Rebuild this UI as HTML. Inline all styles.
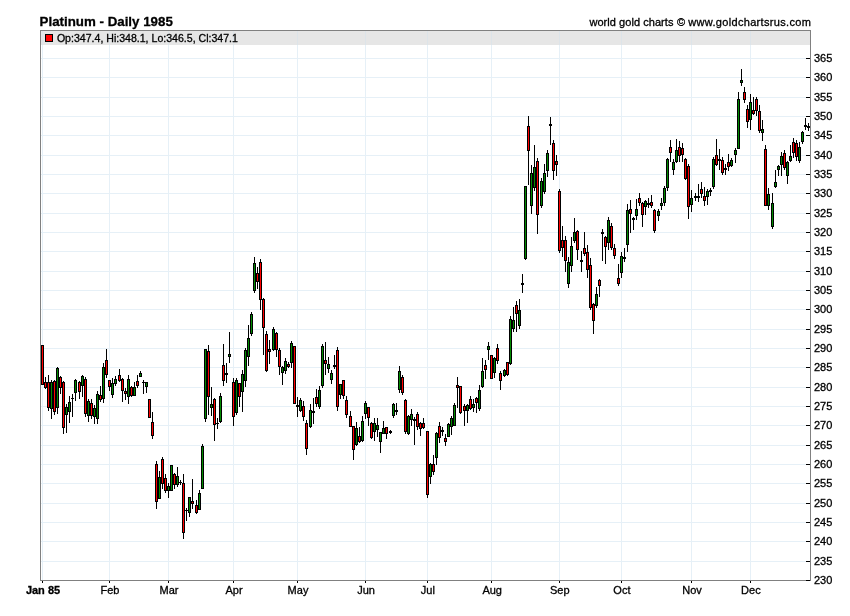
<!DOCTYPE html>
<html><head><meta charset="utf-8"><title>Platinum - Daily 1985</title>
<style>
html,body{margin:0;padding:0;background:#fff;}
body{width:850px;height:616px;overflow:hidden;position:relative;font-family:"Liberation Sans",Arial,sans-serif;color:#000;}
svg{position:absolute;left:0;top:0;}
text{font-family:"Liberation Sans",Arial,sans-serif;fill:#000;stroke:#000;stroke-width:0.3px;}
</style></head><body>
<svg width="850" height="616" viewBox="0 0 850 616">
<rect x="0" y="0" width="850" height="616" fill="#fff"/>
<rect x="41" y="31" width="769" height="14" fill="#e6e6e6"/>
<g shape-rendering="crispEdges" fill="#e6f0f7">
<rect x="41" y="561" width="765" height="1"/><rect x="41" y="541" width="765" height="1"/><rect x="41" y="522" width="765" height="1"/><rect x="41" y="503" width="765" height="1"/><rect x="41" y="483" width="765" height="1"/><rect x="41" y="464" width="765" height="1"/><rect x="41" y="445" width="765" height="1"/><rect x="41" y="425" width="765" height="1"/><rect x="41" y="406" width="765" height="1"/><rect x="41" y="387" width="765" height="1"/><rect x="41" y="367" width="765" height="1"/><rect x="41" y="348" width="765" height="1"/><rect x="41" y="329" width="765" height="1"/><rect x="41" y="309" width="765" height="1"/><rect x="41" y="290" width="765" height="1"/><rect x="41" y="271" width="765" height="1"/><rect x="41" y="251" width="765" height="1"/><rect x="41" y="232" width="765" height="1"/><rect x="41" y="213" width="765" height="1"/><rect x="41" y="193" width="765" height="1"/><rect x="41" y="174" width="765" height="1"/><rect x="41" y="155" width="765" height="1"/><rect x="41" y="135" width="765" height="1"/><rect x="41" y="116" width="765" height="1"/><rect x="41" y="97" width="765" height="1"/><rect x="41" y="77" width="765" height="1"/><rect x="41" y="58" width="765" height="1"/><rect x="42" y="45" width="1" height="535"/><rect x="109" y="45" width="1" height="535"/><rect x="168" y="45" width="1" height="535"/><rect x="233" y="45" width="1" height="535"/><rect x="297" y="45" width="1" height="535"/><rect x="365" y="45" width="1" height="535"/><rect x="427" y="45" width="1" height="535"/><rect x="491" y="45" width="1" height="535"/><rect x="559" y="45" width="1" height="535"/><rect x="621" y="45" width="1" height="535"/><rect x="691" y="45" width="1" height="535"/><rect x="750" y="45" width="1" height="535"/></g>
<g shape-rendering="crispEdges" fill="#dde4e9"><rect x="42" y="31" width="1" height="14"/><rect x="109" y="31" width="1" height="14"/><rect x="168" y="31" width="1" height="14"/><rect x="233" y="31" width="1" height="14"/><rect x="297" y="31" width="1" height="14"/><rect x="365" y="31" width="1" height="14"/><rect x="427" y="31" width="1" height="14"/><rect x="491" y="31" width="1" height="14"/><rect x="559" y="31" width="1" height="14"/><rect x="621" y="31" width="1" height="14"/><rect x="691" y="31" width="1" height="14"/><rect x="750" y="31" width="1" height="14"/></g>
<g shape-rendering="crispEdges">
<rect x="42" y="345" width="1" height="40" fill="#000"/><rect x="41" y="345" width="3" height="40" fill="#000"/><rect x="42" y="346" width="1" height="38" fill="#ff0000"/>
<rect x="45" y="377" width="1" height="12" fill="#000"/><rect x="44" y="382" width="3" height="6" fill="#000"/><rect x="45" y="383" width="1" height="4" fill="#ff0000"/>
<rect x="48" y="375" width="1" height="36" fill="#000"/><rect x="47" y="382" width="3" height="26" fill="#000"/><rect x="48" y="383" width="1" height="24" fill="#ff0000"/>
<rect x="51" y="380" width="1" height="39" fill="#000"/><rect x="50" y="382" width="3" height="27" fill="#000"/><rect x="51" y="383" width="1" height="25" fill="#008a00"/>
<rect x="54" y="380" width="1" height="35" fill="#000"/><rect x="53" y="381" width="3" height="31" fill="#000"/><rect x="54" y="382" width="1" height="29" fill="#ff0000"/>
<rect x="57" y="367" width="1" height="47" fill="#000"/><rect x="56" y="368" width="3" height="40" fill="#000"/><rect x="57" y="369" width="1" height="38" fill="#008a00"/>
<rect x="60" y="376" width="1" height="18" fill="#000"/><rect x="59" y="377" width="3" height="11" fill="#000"/><rect x="60" y="378" width="1" height="9" fill="#ff0000"/>
<rect x="63" y="381" width="1" height="53" fill="#000"/><rect x="62" y="382" width="3" height="46" fill="#000"/><rect x="63" y="383" width="1" height="44" fill="#ff0000"/>
<rect x="66" y="404" width="1" height="29" fill="#000"/><rect x="65" y="407" width="3" height="8" fill="#000"/><rect x="66" y="408" width="1" height="6" fill="#008a00"/>
<rect x="69" y="396" width="1" height="27" fill="#000"/><rect x="68" y="402" width="3" height="10" fill="#000"/><rect x="69" y="403" width="1" height="8" fill="#008a00"/>
<rect x="72" y="394" width="1" height="23" fill="#000"/><rect x="71" y="398" width="3" height="1" fill="#000"/>
<rect x="75" y="379" width="1" height="22" fill="#000"/><rect x="74" y="380" width="3" height="13" fill="#000"/><rect x="75" y="381" width="1" height="11" fill="#008a00"/>
<rect x="79" y="381" width="1" height="18" fill="#000"/><rect x="78" y="382" width="3" height="10" fill="#000"/><rect x="79" y="383" width="1" height="8" fill="#ff0000"/>
<rect x="82" y="375" width="1" height="22" fill="#000"/><rect x="81" y="376" width="3" height="10" fill="#000"/><rect x="82" y="377" width="1" height="8" fill="#008a00"/>
<rect x="85" y="377" width="1" height="40" fill="#000"/><rect x="84" y="379" width="3" height="35" fill="#000"/><rect x="85" y="380" width="1" height="33" fill="#ff0000"/>
<rect x="88" y="399" width="1" height="23" fill="#000"/><rect x="87" y="401" width="3" height="15" fill="#000"/><rect x="88" y="402" width="1" height="13" fill="#008a00"/>
<rect x="91" y="399" width="1" height="20" fill="#000"/><rect x="90" y="403" width="3" height="13" fill="#000"/><rect x="91" y="404" width="1" height="11" fill="#ff0000"/>
<rect x="94" y="405" width="1" height="19" fill="#000"/><rect x="93" y="408" width="3" height="9" fill="#000"/><rect x="94" y="409" width="1" height="7" fill="#008a00"/>
<rect x="97" y="391" width="1" height="33" fill="#000"/><rect x="96" y="394" width="3" height="25" fill="#000"/><rect x="97" y="395" width="1" height="23" fill="#008a00"/>
<rect x="100" y="386" width="1" height="16" fill="#000"/><rect x="99" y="395" width="3" height="5" fill="#000"/><rect x="100" y="396" width="1" height="3" fill="#ff0000"/>
<rect x="103" y="363" width="1" height="40" fill="#000"/><rect x="102" y="367" width="3" height="32" fill="#000"/><rect x="103" y="368" width="1" height="30" fill="#008a00"/>
<rect x="106" y="349" width="1" height="29" fill="#000"/><rect x="105" y="360" width="3" height="15" fill="#000"/><rect x="106" y="361" width="1" height="13" fill="#ff0000"/>
<rect x="109" y="380" width="1" height="11" fill="#000"/><rect x="108" y="380" width="3" height="7" fill="#000"/><rect x="109" y="381" width="1" height="5" fill="#ff0000"/>
<rect x="112" y="378" width="1" height="20" fill="#000"/><rect x="111" y="383" width="3" height="12" fill="#000"/><rect x="112" y="384" width="1" height="10" fill="#008a00"/>
<rect x="115" y="376" width="1" height="10" fill="#000"/><rect x="114" y="379" width="3" height="5" fill="#000"/><rect x="115" y="380" width="1" height="3" fill="#008a00"/>
<rect x="119" y="369" width="1" height="13" fill="#000"/><rect x="118" y="375" width="3" height="6" fill="#000"/><rect x="119" y="376" width="1" height="4" fill="#ff0000"/>
<rect x="122" y="378" width="1" height="24" fill="#000"/><rect x="121" y="379" width="3" height="12" fill="#000"/><rect x="122" y="380" width="1" height="10" fill="#ff0000"/>
<rect x="125" y="388" width="1" height="12" fill="#000"/><rect x="124" y="391" width="3" height="3" fill="#000"/><rect x="125" y="392" width="1" height="1" fill="#ff0000"/>
<rect x="128" y="375" width="1" height="29" fill="#000"/><rect x="127" y="379" width="3" height="18" fill="#000"/><rect x="128" y="380" width="1" height="16" fill="#008a00"/>
<rect x="131" y="386" width="1" height="11" fill="#000"/><rect x="130" y="387" width="3" height="9" fill="#000"/><rect x="131" y="388" width="1" height="7" fill="#ff0000"/>
<rect x="134" y="382" width="1" height="14" fill="#000"/><rect x="133" y="387" width="3" height="9" fill="#000"/><rect x="134" y="388" width="1" height="7" fill="#008a00"/>
<rect x="137" y="375" width="1" height="13" fill="#000"/><rect x="136" y="381" width="3" height="5" fill="#000"/><rect x="137" y="382" width="1" height="3" fill="#ff0000"/>
<rect x="140" y="371" width="1" height="6" fill="#000"/><rect x="139" y="373" width="3" height="4" fill="#000"/><rect x="140" y="374" width="1" height="2" fill="#008a00"/>
<rect x="143" y="380" width="1" height="14" fill="#000"/><rect x="142" y="382" width="3" height="1" fill="#000"/>
<rect x="146" y="382" width="1" height="11" fill="#000"/><rect x="145" y="382" width="3" height="5" fill="#000"/><rect x="146" y="383" width="1" height="3" fill="#008a00"/>
<rect x="149" y="399" width="1" height="19" fill="#000"/><rect x="148" y="399" width="3" height="19" fill="#000"/><rect x="149" y="400" width="1" height="17" fill="#ff0000"/>
<rect x="152" y="412" width="1" height="27" fill="#000"/><rect x="151" y="422" width="3" height="14" fill="#000"/><rect x="152" y="423" width="1" height="12" fill="#ff0000"/>
<rect x="156" y="461" width="1" height="48" fill="#000"/><rect x="155" y="464" width="3" height="38" fill="#000"/><rect x="156" y="465" width="1" height="36" fill="#ff0000"/>
<rect x="159" y="471" width="1" height="28" fill="#000"/><rect x="158" y="477" width="3" height="22" fill="#000"/><rect x="159" y="478" width="1" height="20" fill="#008a00"/>
<rect x="162" y="457" width="1" height="32" fill="#000"/><rect x="161" y="459" width="3" height="25" fill="#000"/><rect x="162" y="460" width="1" height="23" fill="#ff0000"/>
<rect x="165" y="474" width="1" height="19" fill="#000"/><rect x="164" y="478" width="3" height="13" fill="#000"/><rect x="165" y="479" width="1" height="11" fill="#ff0000"/>
<rect x="168" y="483" width="1" height="15" fill="#000"/><rect x="167" y="486" width="3" height="5" fill="#000"/><rect x="168" y="487" width="1" height="3" fill="#008a00"/>
<rect x="171" y="465" width="1" height="26" fill="#000"/><rect x="170" y="465" width="3" height="26" fill="#000"/><rect x="171" y="466" width="1" height="24" fill="#008a00"/>
<rect x="174" y="473" width="1" height="16" fill="#000"/><rect x="173" y="474" width="3" height="11" fill="#000"/><rect x="174" y="475" width="1" height="9" fill="#ff0000"/>
<rect x="177" y="467" width="1" height="20" fill="#000"/><rect x="176" y="476" width="3" height="9" fill="#000"/><rect x="177" y="477" width="1" height="7" fill="#008a00"/>
<rect x="180" y="480" width="1" height="5" fill="#000"/><rect x="179" y="482" width="3" height="1" fill="#000"/>
<rect x="183" y="474" width="1" height="65" fill="#000"/><rect x="182" y="483" width="3" height="50" fill="#000"/><rect x="183" y="484" width="1" height="48" fill="#ff0000"/>
<rect x="186" y="508" width="1" height="13" fill="#000"/><rect x="185" y="510" width="3" height="1" fill="#000"/>
<rect x="189" y="497" width="1" height="20" fill="#000"/><rect x="188" y="497" width="3" height="16" fill="#000"/><rect x="189" y="498" width="1" height="14" fill="#008a00"/>
<rect x="192" y="479" width="1" height="30" fill="#000"/><rect x="191" y="501" width="3" height="3" fill="#000"/><rect x="192" y="502" width="1" height="1" fill="#ff0000"/>
<rect x="196" y="500" width="1" height="14" fill="#000"/><rect x="195" y="505" width="3" height="8" fill="#000"/><rect x="196" y="506" width="1" height="6" fill="#ff0000"/>
<rect x="199" y="490" width="1" height="20" fill="#000"/><rect x="198" y="493" width="3" height="17" fill="#000"/><rect x="199" y="494" width="1" height="15" fill="#008a00"/>
<rect x="202" y="444" width="1" height="45" fill="#000"/><rect x="201" y="446" width="3" height="43" fill="#000"/><rect x="202" y="447" width="1" height="41" fill="#008a00"/>
<rect x="205" y="349" width="1" height="73" fill="#000"/><rect x="204" y="349" width="3" height="70" fill="#000"/><rect x="205" y="350" width="1" height="68" fill="#008a00"/>
<rect x="208" y="345" width="1" height="70" fill="#000"/><rect x="207" y="351" width="3" height="46" fill="#000"/><rect x="208" y="352" width="1" height="44" fill="#ff0000"/>
<rect x="211" y="387" width="1" height="29" fill="#000"/><rect x="210" y="404" width="3" height="4" fill="#000"/><rect x="211" y="405" width="1" height="2" fill="#008a00"/>
<rect x="214" y="398" width="1" height="43" fill="#000"/><rect x="213" y="399" width="3" height="26" fill="#000"/><rect x="214" y="400" width="1" height="24" fill="#ff0000"/>
<rect x="217" y="418" width="1" height="11" fill="#000"/><rect x="216" y="423" width="3" height="1" fill="#000"/>
<rect x="220" y="393" width="1" height="30" fill="#000"/><rect x="219" y="396" width="3" height="26" fill="#000"/><rect x="220" y="397" width="1" height="24" fill="#008a00"/>
<rect x="223" y="344" width="1" height="42" fill="#000"/><rect x="222" y="365" width="3" height="16" fill="#000"/><rect x="223" y="366" width="1" height="14" fill="#ff0000"/>
<rect x="226" y="363" width="1" height="20" fill="#000"/><rect x="225" y="373" width="3" height="2" fill="#000"/>
<rect x="229" y="332" width="1" height="31" fill="#000"/><rect x="228" y="354" width="3" height="3" fill="#000"/><rect x="229" y="355" width="1" height="1" fill="#008a00"/>
<rect x="233" y="378" width="1" height="48" fill="#000"/><rect x="232" y="382" width="3" height="35" fill="#000"/><rect x="233" y="383" width="1" height="33" fill="#ff0000"/>
<rect x="236" y="378" width="1" height="37" fill="#000"/><rect x="235" y="380" width="3" height="33" fill="#000"/><rect x="236" y="381" width="1" height="31" fill="#008a00"/>
<rect x="239" y="383" width="1" height="24" fill="#000"/><rect x="238" y="383" width="3" height="14" fill="#000"/><rect x="239" y="384" width="1" height="12" fill="#ff0000"/>
<rect x="242" y="370" width="1" height="42" fill="#000"/><rect x="241" y="374" width="3" height="18" fill="#000"/><rect x="242" y="375" width="1" height="16" fill="#008a00"/>
<rect x="245" y="348" width="1" height="39" fill="#000"/><rect x="244" y="350" width="3" height="31" fill="#000"/><rect x="245" y="351" width="1" height="29" fill="#008a00"/>
<rect x="248" y="325" width="1" height="41" fill="#000"/><rect x="247" y="338" width="3" height="19" fill="#000"/><rect x="248" y="339" width="1" height="17" fill="#008a00"/>
<rect x="251" y="312" width="1" height="24" fill="#000"/><rect x="250" y="314" width="3" height="20" fill="#000"/><rect x="251" y="315" width="1" height="18" fill="#008a00"/>
<rect x="254" y="257" width="1" height="36" fill="#000"/><rect x="253" y="263" width="3" height="28" fill="#000"/><rect x="254" y="264" width="1" height="26" fill="#008a00"/>
<rect x="257" y="267" width="1" height="22" fill="#000"/><rect x="256" y="273" width="3" height="9" fill="#000"/><rect x="257" y="274" width="1" height="7" fill="#ff0000"/>
<rect x="260" y="259" width="1" height="51" fill="#000"/><rect x="259" y="262" width="3" height="38" fill="#000"/><rect x="260" y="263" width="1" height="36" fill="#ff0000"/>
<rect x="263" y="298" width="1" height="57" fill="#000"/><rect x="262" y="299" width="3" height="29" fill="#000"/><rect x="263" y="300" width="1" height="27" fill="#ff0000"/>
<rect x="266" y="331" width="1" height="41" fill="#000"/><rect x="265" y="334" width="3" height="37" fill="#000"/><rect x="266" y="335" width="1" height="35" fill="#ff0000"/>
<rect x="269" y="340" width="1" height="24" fill="#000"/><rect x="268" y="349" width="3" height="3" fill="#000"/><rect x="269" y="350" width="1" height="1" fill="#ff0000"/>
<rect x="273" y="327" width="1" height="24" fill="#000"/><rect x="272" y="329" width="3" height="21" fill="#000"/><rect x="273" y="330" width="1" height="19" fill="#008a00"/>
<rect x="276" y="332" width="1" height="25" fill="#000"/><rect x="275" y="333" width="3" height="17" fill="#000"/><rect x="276" y="334" width="1" height="15" fill="#ff0000"/>
<rect x="279" y="348" width="1" height="27" fill="#000"/><rect x="278" y="350" width="3" height="17" fill="#000"/><rect x="279" y="351" width="1" height="15" fill="#ff0000"/>
<rect x="282" y="366" width="1" height="19" fill="#000"/><rect x="281" y="367" width="3" height="6" fill="#000"/><rect x="282" y="368" width="1" height="4" fill="#008a00"/>
<rect x="285" y="358" width="1" height="16" fill="#000"/><rect x="284" y="361" width="3" height="10" fill="#000"/><rect x="285" y="362" width="1" height="8" fill="#008a00"/>
<rect x="288" y="362" width="1" height="6" fill="#000"/><rect x="287" y="364" width="3" height="3" fill="#000"/><rect x="288" y="365" width="1" height="1" fill="#ff0000"/>
<rect x="291" y="341" width="1" height="27" fill="#000"/><rect x="290" y="343" width="3" height="20" fill="#000"/><rect x="291" y="344" width="1" height="18" fill="#008a00"/>
<rect x="294" y="346" width="1" height="58" fill="#000"/><rect x="293" y="346" width="3" height="58" fill="#000"/><rect x="294" y="347" width="1" height="56" fill="#ff0000"/>
<rect x="297" y="397" width="1" height="20" fill="#000"/><rect x="296" y="405" width="3" height="2" fill="#000"/>
<rect x="300" y="398" width="1" height="14" fill="#000"/><rect x="299" y="400" width="3" height="11" fill="#000"/><rect x="300" y="401" width="1" height="9" fill="#008a00"/>
<rect x="303" y="401" width="1" height="20" fill="#000"/><rect x="302" y="406" width="3" height="11" fill="#000"/><rect x="303" y="407" width="1" height="9" fill="#ff0000"/>
<rect x="306" y="420" width="1" height="35" fill="#000"/><rect x="305" y="423" width="3" height="26" fill="#000"/><rect x="306" y="424" width="1" height="24" fill="#ff0000"/>
<rect x="310" y="404" width="1" height="24" fill="#000"/><rect x="309" y="410" width="3" height="17" fill="#000"/><rect x="310" y="411" width="1" height="15" fill="#008a00"/>
<rect x="313" y="398" width="1" height="26" fill="#000"/><rect x="312" y="411" width="3" height="2" fill="#000"/>
<rect x="316" y="389" width="1" height="18" fill="#000"/><rect x="315" y="397" width="3" height="7" fill="#000"/><rect x="316" y="398" width="1" height="5" fill="#ff0000"/>
<rect x="319" y="386" width="1" height="23" fill="#000"/><rect x="318" y="390" width="3" height="17" fill="#000"/><rect x="319" y="391" width="1" height="15" fill="#008a00"/>
<rect x="322" y="344" width="1" height="44" fill="#000"/><rect x="321" y="346" width="3" height="40" fill="#000"/><rect x="322" y="347" width="1" height="38" fill="#008a00"/>
<rect x="325" y="342" width="1" height="33" fill="#000"/><rect x="324" y="360" width="3" height="4" fill="#000"/><rect x="325" y="361" width="1" height="2" fill="#ff0000"/>
<rect x="328" y="357" width="1" height="16" fill="#000"/><rect x="327" y="364" width="3" height="5" fill="#000"/><rect x="328" y="365" width="1" height="3" fill="#008a00"/>
<rect x="331" y="370" width="1" height="14" fill="#000"/><rect x="330" y="373" width="3" height="7" fill="#000"/><rect x="331" y="374" width="1" height="5" fill="#008a00"/>
<rect x="334" y="355" width="1" height="14" fill="#000"/><rect x="333" y="365" width="3" height="2" fill="#000"/>
<rect x="337" y="347" width="1" height="64" fill="#000"/><rect x="336" y="350" width="3" height="57" fill="#000"/><rect x="337" y="351" width="1" height="55" fill="#ff0000"/>
<rect x="340" y="384" width="1" height="15" fill="#000"/><rect x="339" y="384" width="3" height="11" fill="#000"/><rect x="340" y="385" width="1" height="9" fill="#008a00"/>
<rect x="343" y="380" width="1" height="19" fill="#000"/><rect x="342" y="380" width="3" height="16" fill="#000"/><rect x="343" y="381" width="1" height="14" fill="#ff0000"/>
<rect x="346" y="396" width="1" height="22" fill="#000"/><rect x="345" y="400" width="3" height="15" fill="#000"/><rect x="346" y="401" width="1" height="13" fill="#ff0000"/>
<rect x="350" y="411" width="1" height="16" fill="#000"/><rect x="349" y="416" width="3" height="11" fill="#000"/><rect x="350" y="417" width="1" height="9" fill="#ff0000"/>
<rect x="353" y="426" width="1" height="34" fill="#000"/><rect x="352" y="426" width="3" height="24" fill="#000"/><rect x="353" y="427" width="1" height="22" fill="#ff0000"/>
<rect x="356" y="422" width="1" height="24" fill="#000"/><rect x="355" y="428" width="3" height="17" fill="#000"/><rect x="356" y="429" width="1" height="15" fill="#008a00"/>
<rect x="359" y="427" width="1" height="16" fill="#000"/><rect x="358" y="436" width="3" height="6" fill="#000"/><rect x="359" y="437" width="1" height="4" fill="#ff0000"/>
<rect x="362" y="416" width="1" height="26" fill="#000"/><rect x="361" y="421" width="3" height="20" fill="#000"/><rect x="362" y="422" width="1" height="18" fill="#008a00"/>
<rect x="365" y="401" width="1" height="18" fill="#000"/><rect x="364" y="403" width="3" height="11" fill="#000"/><rect x="365" y="404" width="1" height="9" fill="#008a00"/>
<rect x="368" y="407" width="1" height="19" fill="#000"/><rect x="367" y="407" width="3" height="11" fill="#000"/><rect x="368" y="408" width="1" height="9" fill="#ff0000"/>
<rect x="371" y="422" width="1" height="17" fill="#000"/><rect x="370" y="423" width="3" height="15" fill="#000"/><rect x="371" y="424" width="1" height="13" fill="#ff0000"/>
<rect x="374" y="418" width="1" height="23" fill="#000"/><rect x="373" y="423" width="3" height="9" fill="#000"/><rect x="374" y="424" width="1" height="7" fill="#008a00"/>
<rect x="377" y="418" width="1" height="19" fill="#000"/><rect x="376" y="425" width="3" height="5" fill="#000"/><rect x="377" y="426" width="1" height="3" fill="#008a00"/>
<rect x="380" y="432" width="1" height="21" fill="#000"/><rect x="379" y="432" width="3" height="10" fill="#000"/><rect x="380" y="433" width="1" height="8" fill="#008a00"/>
<rect x="383" y="421" width="1" height="13" fill="#000"/><rect x="382" y="428" width="3" height="6" fill="#000"/><rect x="383" y="429" width="1" height="4" fill="#008a00"/>
<rect x="386" y="427" width="1" height="12" fill="#000"/><rect x="385" y="427" width="3" height="7" fill="#000"/><rect x="386" y="428" width="1" height="5" fill="#ff0000"/>
<rect x="390" y="430" width="1" height="4" fill="#000"/><rect x="389" y="431" width="3" height="2" fill="#000"/>
<rect x="393" y="403" width="1" height="15" fill="#000"/><rect x="392" y="404" width="3" height="12" fill="#000"/><rect x="393" y="405" width="1" height="10" fill="#008a00"/>
<rect x="396" y="403" width="1" height="12" fill="#000"/><rect x="395" y="410" width="3" height="2" fill="#000"/>
<rect x="399" y="366" width="1" height="27" fill="#000"/><rect x="398" y="371" width="3" height="19" fill="#000"/><rect x="399" y="372" width="1" height="17" fill="#008a00"/>
<rect x="402" y="375" width="1" height="20" fill="#000"/><rect x="401" y="377" width="3" height="16" fill="#000"/><rect x="402" y="378" width="1" height="14" fill="#ff0000"/>
<rect x="405" y="399" width="1" height="35" fill="#000"/><rect x="404" y="400" width="3" height="32" fill="#000"/><rect x="405" y="401" width="1" height="30" fill="#ff0000"/>
<rect x="408" y="415" width="1" height="20" fill="#000"/><rect x="407" y="416" width="3" height="18" fill="#000"/><rect x="408" y="417" width="1" height="16" fill="#008a00"/>
<rect x="411" y="409" width="1" height="17" fill="#000"/><rect x="410" y="414" width="3" height="6" fill="#000"/><rect x="411" y="415" width="1" height="4" fill="#008a00"/>
<rect x="414" y="417" width="1" height="28" fill="#000"/><rect x="413" y="419" width="3" height="2" fill="#000"/>
<rect x="417" y="412" width="1" height="18" fill="#000"/><rect x="416" y="414" width="3" height="13" fill="#000"/><rect x="417" y="415" width="1" height="11" fill="#ff0000"/>
<rect x="420" y="422" width="1" height="14" fill="#000"/><rect x="419" y="423" width="3" height="6" fill="#000"/><rect x="420" y="424" width="1" height="4" fill="#ff0000"/>
<rect x="423" y="418" width="1" height="11" fill="#000"/><rect x="422" y="423" width="3" height="5" fill="#000"/><rect x="423" y="424" width="1" height="3" fill="#ff0000"/>
<rect x="427" y="431" width="1" height="67" fill="#000"/><rect x="426" y="431" width="3" height="64" fill="#000"/><rect x="427" y="432" width="1" height="62" fill="#ff0000"/>
<rect x="430" y="463" width="1" height="21" fill="#000"/><rect x="429" y="464" width="3" height="13" fill="#000"/><rect x="430" y="465" width="1" height="11" fill="#008a00"/>
<rect x="433" y="455" width="1" height="20" fill="#000"/><rect x="432" y="464" width="3" height="8" fill="#000"/><rect x="433" y="465" width="1" height="6" fill="#ff0000"/>
<rect x="436" y="432" width="1" height="33" fill="#000"/><rect x="435" y="433" width="3" height="25" fill="#000"/><rect x="436" y="434" width="1" height="23" fill="#008a00"/>
<rect x="439" y="422" width="1" height="21" fill="#000"/><rect x="438" y="426" width="3" height="12" fill="#000"/><rect x="439" y="427" width="1" height="10" fill="#ff0000"/>
<rect x="442" y="427" width="1" height="9" fill="#000"/><rect x="441" y="430" width="3" height="2" fill="#000"/>
<rect x="445" y="434" width="1" height="12" fill="#000"/><rect x="444" y="438" width="3" height="4" fill="#000"/><rect x="445" y="439" width="1" height="2" fill="#ff0000"/>
<rect x="448" y="423" width="1" height="14" fill="#000"/><rect x="447" y="424" width="3" height="13" fill="#000"/><rect x="448" y="425" width="1" height="11" fill="#008a00"/>
<rect x="451" y="416" width="1" height="19" fill="#000"/><rect x="450" y="418" width="3" height="9" fill="#000"/><rect x="451" y="419" width="1" height="7" fill="#008a00"/>
<rect x="454" y="403" width="1" height="23" fill="#000"/><rect x="453" y="405" width="3" height="21" fill="#000"/><rect x="454" y="406" width="1" height="19" fill="#008a00"/>
<rect x="457" y="377" width="1" height="31" fill="#000"/><rect x="456" y="385" width="3" height="3" fill="#000"/><rect x="457" y="386" width="1" height="1" fill="#ff0000"/>
<rect x="460" y="386" width="1" height="28" fill="#000"/><rect x="459" y="386" width="3" height="27" fill="#000"/><rect x="460" y="387" width="1" height="25" fill="#ff0000"/>
<rect x="464" y="404" width="1" height="22" fill="#000"/><rect x="463" y="406" width="3" height="5" fill="#000"/><rect x="464" y="407" width="1" height="3" fill="#ff0000"/>
<rect x="467" y="404" width="1" height="19" fill="#000"/><rect x="466" y="405" width="3" height="6" fill="#000"/><rect x="467" y="406" width="1" height="4" fill="#008a00"/>
<rect x="470" y="396" width="1" height="14" fill="#000"/><rect x="469" y="399" width="3" height="10" fill="#000"/><rect x="470" y="400" width="1" height="8" fill="#ff0000"/>
<rect x="473" y="399" width="1" height="13" fill="#000"/><rect x="472" y="404" width="3" height="4" fill="#000"/><rect x="473" y="405" width="1" height="2" fill="#008a00"/>
<rect x="476" y="397" width="1" height="16" fill="#000"/><rect x="475" y="398" width="3" height="5" fill="#000"/><rect x="476" y="399" width="1" height="3" fill="#ff0000"/>
<rect x="479" y="385" width="1" height="26" fill="#000"/><rect x="478" y="390" width="3" height="19" fill="#000"/><rect x="479" y="391" width="1" height="17" fill="#008a00"/>
<rect x="482" y="358" width="1" height="30" fill="#000"/><rect x="481" y="371" width="3" height="16" fill="#000"/><rect x="482" y="372" width="1" height="14" fill="#008a00"/>
<rect x="485" y="360" width="1" height="19" fill="#000"/><rect x="484" y="365" width="3" height="5" fill="#000"/><rect x="485" y="366" width="1" height="3" fill="#ff0000"/>
<rect x="488" y="342" width="1" height="18" fill="#000"/><rect x="487" y="346" width="3" height="4" fill="#000"/><rect x="488" y="347" width="1" height="2" fill="#008a00"/>
<rect x="491" y="355" width="1" height="24" fill="#000"/><rect x="490" y="355" width="3" height="24" fill="#000"/><rect x="491" y="356" width="1" height="22" fill="#ff0000"/>
<rect x="494" y="357" width="1" height="21" fill="#000"/><rect x="493" y="358" width="3" height="15" fill="#000"/><rect x="494" y="359" width="1" height="13" fill="#008a00"/>
<rect x="497" y="344" width="1" height="20" fill="#000"/><rect x="496" y="348" width="3" height="13" fill="#000"/><rect x="497" y="349" width="1" height="11" fill="#ff0000"/>
<rect x="500" y="371" width="1" height="19" fill="#000"/><rect x="499" y="373" width="3" height="8" fill="#000"/><rect x="500" y="374" width="1" height="6" fill="#ff0000"/>
<rect x="504" y="369" width="1" height="8" fill="#000"/><rect x="503" y="370" width="3" height="6" fill="#000"/><rect x="504" y="371" width="1" height="4" fill="#008a00"/>
<rect x="507" y="362" width="1" height="14" fill="#000"/><rect x="506" y="362" width="3" height="13" fill="#000"/><rect x="507" y="363" width="1" height="11" fill="#ff0000"/>
<rect x="510" y="316" width="1" height="49" fill="#000"/><rect x="509" y="319" width="3" height="45" fill="#000"/><rect x="510" y="320" width="1" height="43" fill="#008a00"/>
<rect x="513" y="307" width="1" height="25" fill="#000"/><rect x="512" y="320" width="3" height="9" fill="#000"/><rect x="513" y="321" width="1" height="7" fill="#008a00"/>
<rect x="516" y="301" width="1" height="31" fill="#000"/><rect x="515" y="305" width="3" height="9" fill="#000"/><rect x="516" y="306" width="1" height="7" fill="#ff0000"/>
<rect x="519" y="299" width="1" height="30" fill="#000"/><rect x="518" y="310" width="3" height="16" fill="#000"/><rect x="519" y="311" width="1" height="14" fill="#008a00"/>
<rect x="522" y="274" width="1" height="19" fill="#000"/><rect x="521" y="283" width="3" height="2" fill="#000"/>
<rect x="525" y="186" width="1" height="74" fill="#000"/><rect x="524" y="186" width="3" height="73" fill="#000"/><rect x="525" y="187" width="1" height="71" fill="#008a00"/>
<rect x="528" y="116" width="1" height="69" fill="#000"/><rect x="527" y="126" width="3" height="25" fill="#000"/><rect x="528" y="127" width="1" height="23" fill="#ff0000"/>
<rect x="531" y="165" width="1" height="49" fill="#000"/><rect x="530" y="173" width="3" height="33" fill="#000"/><rect x="531" y="174" width="1" height="31" fill="#008a00"/>
<rect x="534" y="145" width="1" height="46" fill="#000"/><rect x="533" y="167" width="3" height="21" fill="#000"/><rect x="534" y="168" width="1" height="19" fill="#008a00"/>
<rect x="537" y="158" width="1" height="76" fill="#000"/><rect x="536" y="161" width="3" height="54" fill="#000"/><rect x="537" y="162" width="1" height="52" fill="#ff0000"/>
<rect x="541" y="178" width="1" height="30" fill="#000"/><rect x="540" y="181" width="3" height="25" fill="#000"/><rect x="541" y="182" width="1" height="23" fill="#008a00"/>
<rect x="544" y="164" width="1" height="30" fill="#000"/><rect x="543" y="173" width="3" height="19" fill="#000"/><rect x="544" y="174" width="1" height="17" fill="#008a00"/>
<rect x="547" y="150" width="1" height="27" fill="#000"/><rect x="546" y="153" width="3" height="18" fill="#000"/><rect x="547" y="154" width="1" height="16" fill="#008a00"/>
<rect x="550" y="117" width="1" height="28" fill="#000"/><rect x="549" y="124" width="3" height="2" fill="#000"/>
<rect x="553" y="140" width="1" height="40" fill="#000"/><rect x="552" y="143" width="3" height="28" fill="#000"/><rect x="553" y="144" width="1" height="26" fill="#ff0000"/>
<rect x="556" y="155" width="1" height="21" fill="#000"/><rect x="555" y="161" width="3" height="4" fill="#000"/><rect x="556" y="162" width="1" height="2" fill="#ff0000"/>
<rect x="559" y="189" width="1" height="64" fill="#000"/><rect x="558" y="191" width="3" height="60" fill="#000"/><rect x="559" y="192" width="1" height="58" fill="#ff0000"/>
<rect x="562" y="226" width="1" height="31" fill="#000"/><rect x="561" y="240" width="3" height="8" fill="#000"/><rect x="562" y="241" width="1" height="6" fill="#ff0000"/>
<rect x="565" y="236" width="1" height="36" fill="#000"/><rect x="564" y="240" width="3" height="21" fill="#000"/><rect x="565" y="241" width="1" height="19" fill="#ff0000"/>
<rect x="568" y="257" width="1" height="31" fill="#000"/><rect x="567" y="262" width="3" height="22" fill="#000"/><rect x="568" y="263" width="1" height="20" fill="#008a00"/>
<rect x="571" y="237" width="1" height="35" fill="#000"/><rect x="570" y="246" width="3" height="20" fill="#000"/><rect x="571" y="247" width="1" height="18" fill="#008a00"/>
<rect x="574" y="218" width="1" height="25" fill="#000"/><rect x="573" y="232" width="3" height="9" fill="#000"/><rect x="574" y="233" width="1" height="7" fill="#008a00"/>
<rect x="577" y="230" width="1" height="30" fill="#000"/><rect x="576" y="231" width="3" height="19" fill="#000"/><rect x="577" y="232" width="1" height="17" fill="#ff0000"/>
<rect x="581" y="251" width="1" height="21" fill="#000"/><rect x="580" y="260" width="3" height="2" fill="#000"/>
<rect x="584" y="232" width="1" height="24" fill="#000"/><rect x="583" y="248" width="3" height="6" fill="#000"/><rect x="584" y="249" width="1" height="4" fill="#ff0000"/>
<rect x="587" y="245" width="1" height="33" fill="#000"/><rect x="586" y="252" width="3" height="18" fill="#000"/><rect x="587" y="253" width="1" height="16" fill="#ff0000"/>
<rect x="590" y="258" width="1" height="52" fill="#000"/><rect x="589" y="265" width="3" height="43" fill="#000"/><rect x="590" y="266" width="1" height="41" fill="#ff0000"/>
<rect x="593" y="303" width="1" height="31" fill="#000"/><rect x="592" y="304" width="3" height="17" fill="#000"/><rect x="593" y="305" width="1" height="15" fill="#ff0000"/>
<rect x="596" y="287" width="1" height="21" fill="#000"/><rect x="595" y="294" width="3" height="12" fill="#000"/><rect x="596" y="295" width="1" height="10" fill="#008a00"/>
<rect x="599" y="279" width="1" height="18" fill="#000"/><rect x="598" y="280" width="3" height="6" fill="#000"/><rect x="599" y="281" width="1" height="4" fill="#ff0000"/>
<rect x="602" y="229" width="1" height="32" fill="#000"/><rect x="601" y="232" width="3" height="2" fill="#000"/>
<rect x="605" y="236" width="1" height="28" fill="#000"/><rect x="604" y="237" width="3" height="10" fill="#000"/><rect x="605" y="238" width="1" height="8" fill="#ff0000"/>
<rect x="608" y="217" width="1" height="33" fill="#000"/><rect x="607" y="220" width="3" height="23" fill="#000"/><rect x="608" y="221" width="1" height="21" fill="#008a00"/>
<rect x="611" y="223" width="1" height="27" fill="#000"/><rect x="610" y="226" width="3" height="22" fill="#000"/><rect x="611" y="227" width="1" height="20" fill="#ff0000"/>
<rect x="614" y="244" width="1" height="15" fill="#000"/><rect x="613" y="248" width="3" height="8" fill="#000"/><rect x="614" y="249" width="1" height="6" fill="#ff0000"/>
<rect x="618" y="264" width="1" height="22" fill="#000"/><rect x="617" y="278" width="3" height="6" fill="#000"/><rect x="618" y="279" width="1" height="4" fill="#ff0000"/>
<rect x="621" y="252" width="1" height="26" fill="#000"/><rect x="620" y="256" width="3" height="17" fill="#000"/><rect x="621" y="257" width="1" height="15" fill="#008a00"/>
<rect x="624" y="248" width="1" height="14" fill="#000"/><rect x="623" y="257" width="3" height="2" fill="#000"/>
<rect x="627" y="204" width="1" height="48" fill="#000"/><rect x="626" y="210" width="3" height="35" fill="#000"/><rect x="627" y="211" width="1" height="33" fill="#008a00"/>
<rect x="630" y="200" width="1" height="33" fill="#000"/><rect x="629" y="209" width="3" height="5" fill="#000"/><rect x="630" y="210" width="1" height="3" fill="#ff0000"/>
<rect x="633" y="217" width="1" height="13" fill="#000"/><rect x="632" y="218" width="3" height="2" fill="#000"/>
<rect x="636" y="199" width="1" height="21" fill="#000"/><rect x="635" y="209" width="3" height="7" fill="#000"/><rect x="636" y="210" width="1" height="5" fill="#008a00"/>
<rect x="639" y="193" width="1" height="13" fill="#000"/><rect x="638" y="198" width="3" height="5" fill="#000"/><rect x="639" y="199" width="1" height="3" fill="#ff0000"/>
<rect x="642" y="202" width="1" height="25" fill="#000"/><rect x="641" y="203" width="3" height="12" fill="#000"/><rect x="642" y="204" width="1" height="10" fill="#ff0000"/>
<rect x="645" y="200" width="1" height="15" fill="#000"/><rect x="644" y="201" width="3" height="6" fill="#000"/><rect x="645" y="202" width="1" height="4" fill="#008a00"/>
<rect x="648" y="198" width="1" height="10" fill="#000"/><rect x="647" y="203" width="3" height="2" fill="#000"/>
<rect x="651" y="195" width="1" height="13" fill="#000"/><rect x="650" y="202" width="3" height="4" fill="#000"/><rect x="651" y="203" width="1" height="2" fill="#ff0000"/>
<rect x="654" y="209" width="1" height="24" fill="#000"/><rect x="653" y="210" width="3" height="21" fill="#000"/><rect x="654" y="211" width="1" height="19" fill="#ff0000"/>
<rect x="658" y="209" width="1" height="12" fill="#000"/><rect x="657" y="211" width="3" height="5" fill="#000"/><rect x="658" y="212" width="1" height="3" fill="#008a00"/>
<rect x="661" y="198" width="1" height="12" fill="#000"/><rect x="660" y="203" width="3" height="3" fill="#000"/><rect x="661" y="204" width="1" height="1" fill="#008a00"/>
<rect x="664" y="186" width="1" height="20" fill="#000"/><rect x="663" y="188" width="3" height="15" fill="#000"/><rect x="664" y="189" width="1" height="13" fill="#008a00"/>
<rect x="667" y="158" width="1" height="33" fill="#000"/><rect x="666" y="159" width="3" height="29" fill="#000"/><rect x="667" y="160" width="1" height="27" fill="#008a00"/>
<rect x="670" y="140" width="1" height="22" fill="#000"/><rect x="669" y="147" width="3" height="6" fill="#000"/><rect x="670" y="148" width="1" height="4" fill="#ff0000"/>
<rect x="673" y="159" width="1" height="16" fill="#000"/><rect x="672" y="162" width="3" height="8" fill="#000"/><rect x="673" y="163" width="1" height="6" fill="#008a00"/>
<rect x="676" y="139" width="1" height="24" fill="#000"/><rect x="675" y="150" width="3" height="12" fill="#000"/><rect x="676" y="151" width="1" height="10" fill="#008a00"/>
<rect x="679" y="141" width="1" height="21" fill="#000"/><rect x="678" y="147" width="3" height="9" fill="#000"/><rect x="679" y="148" width="1" height="7" fill="#ff0000"/>
<rect x="682" y="143" width="1" height="19" fill="#000"/><rect x="681" y="148" width="3" height="7" fill="#000"/><rect x="682" y="149" width="1" height="5" fill="#ff0000"/>
<rect x="685" y="158" width="1" height="22" fill="#000"/><rect x="684" y="159" width="3" height="20" fill="#000"/><rect x="685" y="160" width="1" height="18" fill="#ff0000"/>
<rect x="688" y="164" width="1" height="55" fill="#000"/><rect x="687" y="166" width="3" height="41" fill="#000"/><rect x="688" y="167" width="1" height="39" fill="#ff0000"/>
<rect x="691" y="190" width="1" height="22" fill="#000"/><rect x="690" y="198" width="3" height="7" fill="#000"/><rect x="691" y="199" width="1" height="5" fill="#008a00"/>
<rect x="695" y="193" width="1" height="8" fill="#000"/><rect x="694" y="196" width="3" height="2" fill="#000"/>
<rect x="698" y="184" width="1" height="18" fill="#000"/><rect x="697" y="196" width="3" height="2" fill="#000"/>
<rect x="701" y="182" width="1" height="16" fill="#000"/><rect x="700" y="189" width="3" height="5" fill="#000"/><rect x="701" y="190" width="1" height="3" fill="#ff0000"/>
<rect x="704" y="187" width="1" height="19" fill="#000"/><rect x="703" y="196" width="3" height="5" fill="#000"/><rect x="704" y="197" width="1" height="3" fill="#ff0000"/>
<rect x="707" y="189" width="1" height="16" fill="#000"/><rect x="706" y="191" width="3" height="6" fill="#000"/><rect x="707" y="192" width="1" height="4" fill="#008a00"/>
<rect x="710" y="188" width="1" height="8" fill="#000"/><rect x="709" y="190" width="3" height="2" fill="#000"/>
<rect x="713" y="157" width="1" height="32" fill="#000"/><rect x="712" y="159" width="3" height="28" fill="#000"/><rect x="713" y="160" width="1" height="26" fill="#008a00"/>
<rect x="716" y="139" width="1" height="27" fill="#000"/><rect x="715" y="155" width="3" height="10" fill="#000"/><rect x="716" y="156" width="1" height="8" fill="#ff0000"/>
<rect x="719" y="149" width="1" height="21" fill="#000"/><rect x="718" y="159" width="3" height="2" fill="#000"/>
<rect x="722" y="157" width="1" height="18" fill="#000"/><rect x="721" y="160" width="3" height="13" fill="#000"/><rect x="722" y="161" width="1" height="11" fill="#ff0000"/>
<rect x="725" y="164" width="1" height="11" fill="#000"/><rect x="724" y="168" width="3" height="2" fill="#000"/>
<rect x="728" y="154" width="1" height="17" fill="#000"/><rect x="727" y="162" width="3" height="5" fill="#000"/><rect x="728" y="163" width="1" height="3" fill="#ff0000"/>
<rect x="731" y="158" width="1" height="9" fill="#000"/><rect x="730" y="160" width="3" height="6" fill="#000"/><rect x="731" y="161" width="1" height="4" fill="#008a00"/>
<rect x="735" y="148" width="1" height="15" fill="#000"/><rect x="734" y="150" width="3" height="5" fill="#000"/><rect x="735" y="151" width="1" height="3" fill="#008a00"/>
<rect x="738" y="92" width="1" height="57" fill="#000"/><rect x="737" y="99" width="3" height="50" fill="#000"/><rect x="738" y="100" width="1" height="48" fill="#008a00"/>
<rect x="741" y="69" width="1" height="17" fill="#000"/><rect x="740" y="80" width="3" height="3" fill="#000"/><rect x="741" y="81" width="1" height="1" fill="#008a00"/>
<rect x="744" y="87" width="1" height="16" fill="#000"/><rect x="743" y="92" width="3" height="8" fill="#000"/><rect x="744" y="93" width="1" height="6" fill="#ff0000"/>
<rect x="747" y="105" width="1" height="23" fill="#000"/><rect x="746" y="109" width="3" height="13" fill="#000"/><rect x="747" y="110" width="1" height="11" fill="#ff0000"/>
<rect x="750" y="94" width="1" height="36" fill="#000"/><rect x="749" y="102" width="3" height="18" fill="#000"/><rect x="750" y="103" width="1" height="16" fill="#008a00"/>
<rect x="753" y="97" width="1" height="18" fill="#000"/><rect x="752" y="110" width="3" height="4" fill="#000"/><rect x="753" y="111" width="1" height="2" fill="#ff0000"/>
<rect x="756" y="97" width="1" height="19" fill="#000"/><rect x="755" y="99" width="3" height="12" fill="#000"/><rect x="756" y="100" width="1" height="10" fill="#ff0000"/>
<rect x="759" y="105" width="1" height="28" fill="#000"/><rect x="758" y="111" width="3" height="20" fill="#000"/><rect x="759" y="112" width="1" height="18" fill="#ff0000"/>
<rect x="762" y="120" width="1" height="21" fill="#000"/><rect x="761" y="129" width="3" height="4" fill="#000"/><rect x="762" y="130" width="1" height="2" fill="#008a00"/>
<rect x="765" y="145" width="1" height="61" fill="#000"/><rect x="764" y="149" width="3" height="57" fill="#000"/><rect x="765" y="150" width="1" height="55" fill="#ff0000"/>
<rect x="768" y="188" width="1" height="22" fill="#000"/><rect x="767" y="194" width="3" height="12" fill="#000"/><rect x="768" y="195" width="1" height="10" fill="#008a00"/>
<rect x="772" y="193" width="1" height="36" fill="#000"/><rect x="771" y="203" width="3" height="24" fill="#000"/><rect x="772" y="204" width="1" height="22" fill="#008a00"/>
<rect x="775" y="170" width="1" height="18" fill="#000"/><rect x="774" y="182" width="3" height="5" fill="#000"/><rect x="775" y="183" width="1" height="3" fill="#008a00"/>
<rect x="778" y="165" width="1" height="11" fill="#000"/><rect x="777" y="166" width="3" height="4" fill="#000"/><rect x="778" y="167" width="1" height="2" fill="#008a00"/>
<rect x="781" y="152" width="1" height="24" fill="#000"/><rect x="780" y="156" width="3" height="9" fill="#000"/><rect x="781" y="157" width="1" height="7" fill="#008a00"/>
<rect x="784" y="150" width="1" height="20" fill="#000"/><rect x="783" y="153" width="3" height="15" fill="#000"/><rect x="784" y="154" width="1" height="13" fill="#ff0000"/>
<rect x="787" y="161" width="1" height="23" fill="#000"/><rect x="786" y="162" width="3" height="14" fill="#000"/><rect x="787" y="163" width="1" height="12" fill="#008a00"/>
<rect x="790" y="145" width="1" height="17" fill="#000"/><rect x="789" y="156" width="3" height="5" fill="#000"/><rect x="790" y="157" width="1" height="3" fill="#008a00"/>
<rect x="793" y="138" width="1" height="20" fill="#000"/><rect x="792" y="142" width="3" height="11" fill="#000"/><rect x="793" y="143" width="1" height="9" fill="#ff0000"/>
<rect x="796" y="140" width="1" height="21" fill="#000"/><rect x="795" y="143" width="3" height="14" fill="#000"/><rect x="796" y="144" width="1" height="12" fill="#ff0000"/>
<rect x="799" y="142" width="1" height="21" fill="#000"/><rect x="798" y="147" width="3" height="14" fill="#000"/><rect x="799" y="148" width="1" height="12" fill="#008a00"/>
<rect x="802" y="131" width="1" height="13" fill="#000"/><rect x="801" y="132" width="3" height="10" fill="#000"/><rect x="802" y="133" width="1" height="8" fill="#008a00"/>
<rect x="805" y="118" width="1" height="12" fill="#000"/><rect x="804" y="125" width="3" height="2" fill="#000"/>
<rect x="808" y="123" width="1" height="8" fill="#000"/><rect x="807" y="126" width="3" height="2" fill="#000"/>
</g>
<g shape-rendering="crispEdges" fill="#808080"><rect x="40" y="30" width="771" height="1"/><rect x="40" y="580" width="771" height="1"/><rect x="40" y="30" width="1" height="551"/><rect x="810" y="30" width="1" height="551"/></g>
<g shape-rendering="crispEdges" fill="#000"><rect x="806" y="580" width="4" height="1"/><rect x="806" y="561" width="4" height="1"/><rect x="806" y="541" width="4" height="1"/><rect x="806" y="522" width="4" height="1"/><rect x="806" y="503" width="4" height="1"/><rect x="806" y="483" width="4" height="1"/><rect x="806" y="464" width="4" height="1"/><rect x="806" y="445" width="4" height="1"/><rect x="806" y="425" width="4" height="1"/><rect x="806" y="406" width="4" height="1"/><rect x="806" y="387" width="4" height="1"/><rect x="806" y="367" width="4" height="1"/><rect x="806" y="348" width="4" height="1"/><rect x="806" y="329" width="4" height="1"/><rect x="806" y="309" width="4" height="1"/><rect x="806" y="290" width="4" height="1"/><rect x="806" y="271" width="4" height="1"/><rect x="806" y="251" width="4" height="1"/><rect x="806" y="232" width="4" height="1"/><rect x="806" y="213" width="4" height="1"/><rect x="806" y="193" width="4" height="1"/><rect x="806" y="174" width="4" height="1"/><rect x="806" y="155" width="4" height="1"/><rect x="806" y="135" width="4" height="1"/><rect x="806" y="116" width="4" height="1"/><rect x="806" y="97" width="4" height="1"/><rect x="806" y="77" width="4" height="1"/><rect x="806" y="58" width="4" height="1"/><rect x="42" y="581" width="1" height="2"/><rect x="109" y="581" width="1" height="2"/><rect x="168" y="581" width="1" height="2"/><rect x="233" y="581" width="1" height="2"/><rect x="297" y="581" width="1" height="2"/><rect x="365" y="581" width="1" height="2"/><rect x="427" y="581" width="1" height="2"/><rect x="491" y="581" width="1" height="2"/><rect x="559" y="581" width="1" height="2"/><rect x="621" y="581" width="1" height="2"/><rect x="691" y="581" width="1" height="2"/><rect x="750" y="581" width="1" height="2"/></g>
<g font-size="11"><text x="814" y="584">230</text><text x="814" y="565">235</text><text x="814" y="545">240</text><text x="814" y="526">245</text><text x="814" y="507">250</text><text x="814" y="487">255</text><text x="814" y="468">260</text><text x="814" y="449">265</text><text x="814" y="429">270</text><text x="814" y="410">275</text><text x="814" y="391">280</text><text x="814" y="371">285</text><text x="814" y="352">290</text><text x="814" y="333">295</text><text x="814" y="313">300</text><text x="814" y="294">305</text><text x="814" y="275">310</text><text x="814" y="255">315</text><text x="814" y="236">320</text><text x="814" y="217">325</text><text x="814" y="197">330</text><text x="814" y="178">335</text><text x="814" y="159">340</text><text x="814" y="139">345</text><text x="814" y="120">350</text><text x="814" y="101">355</text><text x="814" y="81">360</text><text x="814" y="62">365</text></g>
<g font-size="11" text-anchor="middle"><text x="43.0" y="594" font-weight="bold" stroke-width="0.1">Jan 85</text><text x="110.0" y="594">Feb</text><text x="169.0" y="594">Mar</text><text x="234.1" y="594">Apr</text><text x="298.0" y="594">May</text><text x="366.1" y="594">Jun</text><text x="427.8" y="594">Jul</text><text x="492.2" y="594">Aug</text><text x="559.8" y="594">Sep</text><text x="621.9" y="594">Oct</text><text x="692.0" y="594">Nov</text><text x="750.9" y="594">Dec</text></g>
<rect x="45.5" y="34.5" width="7" height="7" fill="#f00" stroke="#000" stroke-width="1" shape-rendering="crispEdges"/><text x="56.9" y="42" font-size="10.67" textLength="181" lengthAdjust="spacingAndGlyphs">Op:347.4, Hi:348.1, Lo:346.5, Cl:347.1</text>
<text x="39.6" y="26" font-size="13.33" font-weight="bold" stroke-width="0.1" textLength="133.2" lengthAdjust="spacingAndGlyphs">Platinum - Daily 1985</text>
<text x="589.4" y="26" font-size="11" stroke-width="0.15" textLength="84" lengthAdjust="spacing">world gold charts</text><text x="676.9" y="26" font-size="11" stroke-width="0.15">©</text><text x="688.2" y="26" font-size="11" stroke-width="0.15" textLength="122.7" lengthAdjust="spacing">www.goldchartsrus.com</text>
</svg>
</body></html>
